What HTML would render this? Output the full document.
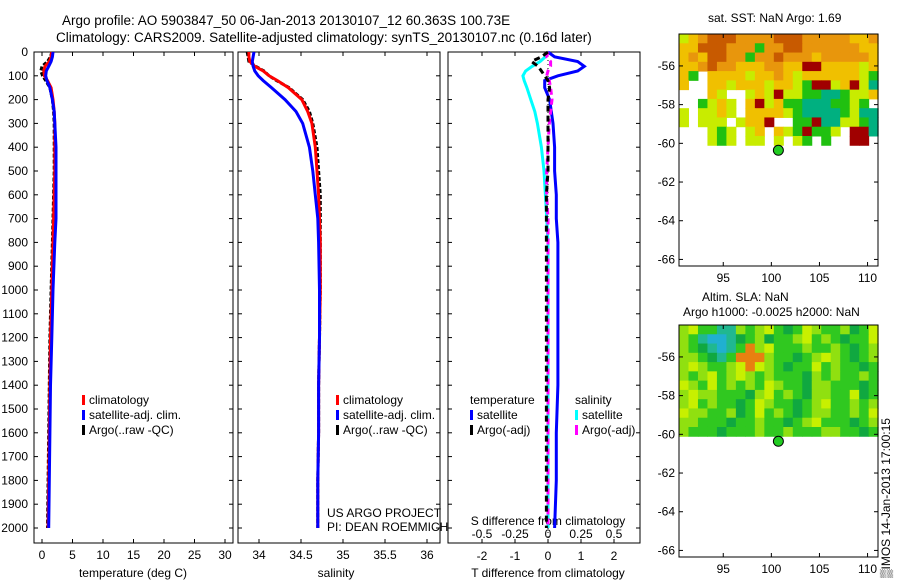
<!DOCTYPE html>
<html><head><meta charset="utf-8"><style>
html,body{margin:0;padding:0;background:#fff;}
svg{display:block;font-family:"Liberation Sans",sans-serif;}
</style></head><body>
<svg id="fig" width="900" height="580" viewBox="0 0 900 580" xmlns="http://www.w3.org/2000/svg">
<text x="62" y="25" font-size="13.5">Argo profile: AO 5903847_50 06-Jan-2013 20130107_12 60.363S 100.73E</text>
<text x="56" y="42" font-size="13.5">Climatology: CARS2009. Satellite-adjusted climatology: synTS_20130107.nc (0.16d later)</text>
<text x="708" y="22" font-size="12">sat. SST: NaN Argo: 1.69</text>
<text x="702" y="301" font-size="12">Altim. SLA: NaN</text>
<text x="683" y="316" font-size="12">Argo h1000: -0.0025 h2000: NaN</text>
<text transform="translate(890,578) rotate(-90)" font-size="12">▒IMOS 14-Jan-2013 17:00:15</text>
<g id="g"></g>
</svg>
<script>
const depths=[0,20,40,60,80,100,120,150,200,250,300,400,500,600,700,800,1000,1200,1400,1600,1800,2000];
const tempClim=[1.6,1.5,1.2,0.5,0.3,0.4,0.9,1.5,1.8,2.0,2.1,2.1,2.1,2.0,1.9,1.8,1.6,1.4,1.3,1.2,1.1,1.0];
const tempSat=[1.8,1.7,1.5,1.1,0.7,0.6,0.8,1.3,1.7,2.0,2.1,2.3,2.3,2.3,2.3,2.1,1.8,1.6,1.4,1.3,1.2,1.1];
const tempArgo=[1.6,1.4,0.9,0.0,-0.2,0.1,0.6,1.3,1.7,1.9,2.0,2.0,2.0,1.9,1.8,1.7,1.5,1.3,1.2,1.1,1.0,0.9];
const salClim=[33.88,33.88,33.89,33.95,34.05,34.12,34.22,34.35,34.51,34.58,34.63,34.67,34.69,34.71,34.72,34.73,34.73,34.72,34.71,34.71,34.70,34.70];
const salSat=[33.94,33.93,33.92,33.93,33.95,33.99,34.05,34.15,34.31,34.44,34.52,34.60,34.64,34.67,34.70,34.71,34.72,34.72,34.71,34.71,34.70,34.70];
const salArgo=[33.86,33.87,33.88,33.96,34.06,34.12,34.21,34.36,34.52,34.60,34.64,34.69,34.71,34.73,34.73,34.73,34.73,34.72,34.71,34.71,34.70,34.70];
const tDiffSat=[0.0,0.2,0.9,1.1,0.9,0.3,-0.1,-0.1,0.05,0.1,0.15,0.2,0.2,0.25,0.25,0.3,0.3,0.3,0.3,0.25,0.25,0.2];
const sDiffSat=[0.0,-0.02,-0.06,-0.12,-0.17,-0.19,-0.18,-0.16,-0.13,-0.1,-0.08,-0.05,-0.03,-0.02,-0.01,0,0,0,0,0,0,0];
const tDiffArgo=[0.0,-0.2,-0.5,-0.3,-0.2,-0.1,0.0,0.05,0.0,0.0,0.0,0.0,0.0,-0.05,-0.05,-0.05,-0.05,-0.05,-0.05,-0.05,-0.05,-0.05];
const sDiffArgo=[0.0,-0.01,0.02,0.02,0.0,-0.01,0.01,0.02,0.03,0.02,0.01,0.0,-0.01,-0.01,0.0,0.0,0.0,0.0,0.0,0.0,0.0,0.0];
const depthTicks=[0,100,200,300,400,500,600,700,800,900,1000,1100,1200,1300,1400,1500,1600,1700,1800,1900,2000];
const tempTicks=[0,5,10,15,20,25,30];
const salTicks=[34,34.5,35,35.5,36];
const salTickLabels=["34","34.5","35","35.5","36"];
const diffTicks=[-2,-1,0,1,2];
const diffTickLabels=["-2","-1","0","1","2"];
const sDiffTicks=[-0.5,-0.25,0,0.25,0.5];
const sDiffTickLabels=["-0.5","-0.25","0","0.25","0.5"];
const latTicks=[-56,-58,-60,-62,-64,-66];
const lonTicks=[95,100,105,110];
const sstRows=["lyorrroooorrroooooyyo","yyrrrooogoorrooooooyy","yoyrroogooroooyoooooy","yyorooyyyooyyRRyyyyly","yg.yyyylyyoylyyyyyylg","y..yylyyylyylgRRlyRlt","...yl..lylRllggttglly","..glyl.yRlyggtttgglg.","l.llyl.yyyylgttttgltt","l.lll.lyyR..ggRttllgt","...lgl.ly.ylgRggl.RRt","...lgl.ll.l.lg.g..RR."];
const slaRows=["lyggcclglygkgylgglkgy","lgcbbckglkgglyglgkggy","lgkcbcgolyggglgglgkgl","llgkcgooolggkglylgkgl","lylgglyoylgkggyglggkg","lglyglylglgggklglgglg","ylgyglglgylggkllgggkg","lyllgggklyglgkllggykg","lyglggkgylggkglygglgl","yllgglkgyglgkgllgglgy","llgggkgglggkglygggkgl","lgggkggglgglgggllggkg"];
const argoLon=[100.73];
const argoLat=[-60.36];
const NS="http://www.w3.org/2000/svg";
const G=document.getElementById('g');
const YB=543;
function el(t,a,p){const e=document.createElementNS(NS,t);for(const k in a)e.setAttribute(k,a[k]);(p||G).appendChild(e);return e;}
function txt(x,y,s,anchor,size,p){const e=el('text',{x:x,y:y,'font-size':size||12,'text-anchor':anchor||'start'},p);e.textContent=s;return e;}
const yD=d=>52+d*0.238;
const P1={x0:34,x1:233,f:v=>42+v*6.1};
const P2={x0:238,x1:440,f:v=>259+(v-34)*84};
const P3={x0:448,x1:640,f:v=>548+v*33};
const fS=v=>548+v*132;
function frame(P,name){const r=el('rect',{x:P.x0,y:yD(0),width:P.x1-P.x0,height:YB-yD(0),fill:'none',stroke:'#000','stroke-width':1});

}
function line(xs,P,col,w,dash,name){let d='';for(let i=0;i<depths.length;i++){d+=(i?'L':'M')+P(xs[i]).toFixed(1)+','+yD(depths[i]).toFixed(1);}
const p=el('path',{d:d,fill:'none',stroke:col,'stroke-width':w,'stroke-dasharray':dash||'none'});

}
frame(P1,'temperature-axes');frame(P2,'salinity-axes');frame(P3,'difference-axes');
const dg=el('g',{});


depthTicks.forEach(d=>{const y=yD(d);txt(28,y+4,String(d),'end',12,dg);
[P1,P2,P3].forEach(P=>{el('line',{x1:P.x0,x2:P.x0+4,y1:y,y2:y,stroke:'#000'},dg);el('line',{x1:P.x1,x2:P.x1-4,y1:y,y2:y,stroke:'#000'},dg);});});
const tg=el('g',{});


tempTicks.forEach(v=>{const x=P1.f(v);txt(x,559,String(v),'middle',12,tg);el('line',{x1:x,x2:x,y1:YB,y2:YB-4,stroke:'#000'},tg);el('line',{x1:x,x2:x,y1:52,y2:56,stroke:'#000'},tg);});
txt(133,577,'temperature (deg C)','middle',12,tg);
const sg=el('g',{});


salTicks.forEach((v,i)=>{const x=P2.f(v);txt(x,559,salTickLabels[i],'middle',12,sg);el('line',{x1:x,x2:x,y1:YB,y2:YB-4,stroke:'#000'},sg);el('line',{x1:x,x2:x,y1:52,y2:56,stroke:'#000'},sg);});
txt(336,577,'salinity','middle',12,sg);
const fg=el('g',{});


diffTicks.forEach((v,i)=>{const x=P3.f(v);txt(x,560,diffTickLabels[i],'middle',12,fg);el('line',{x1:x,x2:x,y1:YB,y2:YB-4,stroke:'#000'},fg);el('line',{x1:x,x2:x,y1:52,y2:56,stroke:'#000'},fg);});
sDiffTicks.forEach((v,i)=>{txt(fS(v),538,sDiffTickLabels[i],'middle',12,fg);});
txt(548,525,'S difference from climatology','middle',12,fg);
txt(548,577,'T difference from climatology','middle',12,fg);
const z=el('line',{x1:P3.f(0),x2:P3.f(0),y1:52,y2:YB,stroke:'#000','stroke-dasharray':'1,3'});


line(tempArgo,P1.f,'#000',3,'4,2','temp-argo-line');
line(tempClim,P1.f,'#ff0000',3,'','temp-climatology-line');
line(tempSat,P1.f,'#0000ff',3,'','temp-satellite-line');
line(salArgo,P2.f,'#000',3,'4,2','sal-argo-line');
line(salClim,P2.f,'#ff0000',3,'','sal-climatology-line');
line(salSat,P2.f,'#0000ff',3,'','sal-satellite-line');
line(sDiffSat,fS,'#00ffff',3,'','sdiff-satellite-line');
line(tDiffSat,P3.f,'#0000ff',3,'','tdiff-satellite-line');
line(sDiffArgo,fS,'#ff00ff',3,'6,4','sdiff-argo-line');
line(tDiffArgo,P3.f,'#000',3,'6,4','tdiff-argo-line');
function leg(x,y,items,name){const g=el('g',{});


items.forEach((it,i)=>{if(it[0])el('rect',{x:x,y:y+i*15-9,width:3,height:10,fill:it[0]},g);txt(x+(it[0]?7:0),y+i*15,it[1],'start',12,g);});}
leg(82,404,[['#ff0000','climatology'],['#0000ff','satellite-adj. clim.'],['#000','Argo(..raw -QC)']],'temperature-legend');
leg(336,404,[['#ff0000','climatology'],['#0000ff','satellite-adj. clim.'],['#000','Argo(..raw -QC)']],'salinity-legend');
leg(470,404,[[null,'temperature'],['#0000ff','satellite'],['#000','Argo(-adj)']],'tdiff-legend');
leg(575,404,[[null,'salinity'],['#00ffff','satellite'],['#ff00ff','Argo(-adj)']],'sdiff-legend');
const pr=el('g',{});


txt(327,517,'US ARGO PROJECT','start',12,pr);txt(327,531,'PI: DEAN ROEMMICH','start',12,pr);
function map(top,rows,cols,name,fieldBottomLat){
const M={x0:679,x1:878,y0:top,y1:top+232};
const lx=v=>679+(v-90.4)*9.62;const ly=v=>top+(-54.35-v)*19.35;
const g=el('g',{});


const nr=rows.length,nc=rows[0].length;const lat0=-54.35,lat1=fieldBottomLat;const lon0=90.4,lon1=111.1;
rows.forEach((r,i)=>{for(let j=0;j<nc;j++){const c=cols[r[j]];if(!c)continue;
const xa=lx(lon0+(lon1-lon0)*j/nc),xb=lx(lon0+(lon1-lon0)*(j+1)/nc);const ya=ly(lat0+(lat1-lat0)*i/nr),yb=ly(lat0+(lat1-lat0)*(i+1)/nr);
const cell=el('rect',{x:xa,y:ya,width:xb-xa+0.5,height:yb-ya+0.5,fill:c},g);

}});
el('rect',{x:M.x0,y:M.y0,width:M.x1-M.x0,height:M.y1-M.y0,fill:'none',stroke:'#000'},g);
latTicks.forEach(v=>{const y=ly(v);txt(675,y+4,String(v),'end',12,g);el('line',{x1:M.x0,x2:M.x0+4,y1:y,y2:y,stroke:'#000'},g);el('line',{x1:M.x1,x2:M.x1-4,y1:y,y2:y,stroke:'#000'},g);});
lonTicks.forEach(v=>{const x=lx(v);txt(x,M.y1+16,String(v),'middle',12,g);el('line',{x1:x,x2:x,y1:M.y1,y2:M.y1-4,stroke:'#000'},g);el('line',{x1:x,x2:x,y1:M.y0,y2:M.y0+4,stroke:'#000'},g);});
const dot=el('circle',{cx:lx(argoLon[0]),cy:ly(argoLat[0]),r:5,fill:'#22cc22',stroke:'#000'},g);

}
map(34,sstRows,{r:'#c85a00',o:'#e8960c',y:'#f0c000',l:'#c8ec00',g:'#20c010',t:'#00b080',R:'#a00000'},'sst-map',-60.1);
map(325,slaRows,{g:'#30c820',l:'#90e010',y:'#c8f000',b:'#20b0d0',c:'#20b890',o:'#e88010',k:'#10a840'},'sla-map',-60.1);
</script>
</body></html>
